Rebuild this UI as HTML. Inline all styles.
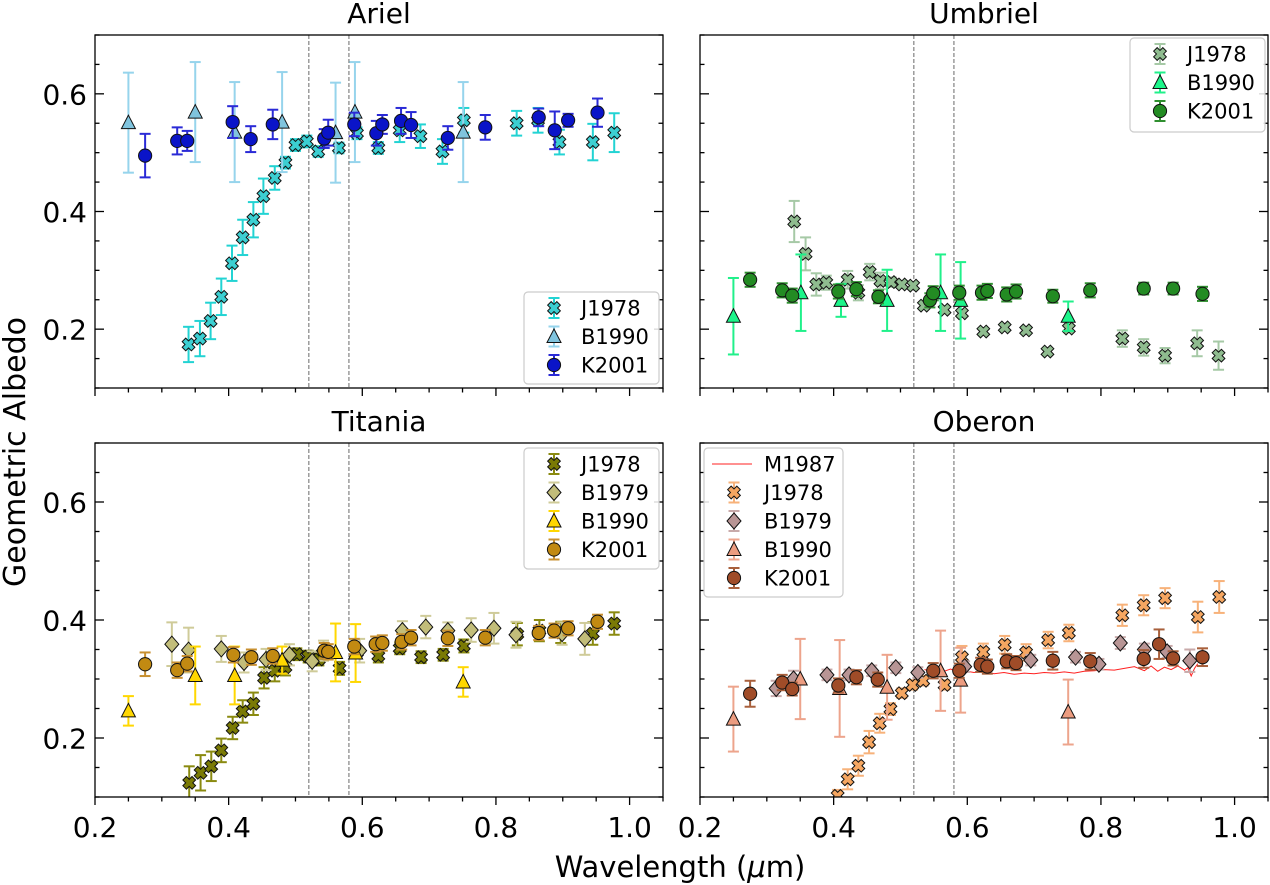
<!DOCTYPE html>
<html><head><meta charset="utf-8"><style>
html,body{margin:0;padding:0;background:#fff;}
svg{display:block;font-family:"DejaVu Sans","Liberation Sans",sans-serif;}
</style></head><body>
<svg id="chart" width="1270" height="885" viewBox="0 0 1270 885" xmlns="http://www.w3.org/2000/svg"></svg>
<script>
// ---------- DATA ----------
const xTicks = [0.2, 0.4, 0.6, 0.8, 1.0];
const yTicks = [0.2, 0.4, 0.6];
const dashedLines = [0.52, 0.58];

// Ariel
const arielJ1978X = [0.340,0.357,0.373,0.389,0.405,0.421,0.437,0.452,0.469,0.485,0.500,0.517,0.534,0.565,0.592,0.624,0.656,0.687,0.720,0.752,0.831,0.863,0.895,0.945,0.977];
const arielJ1978Y = [0.174,0.184,0.214,0.255,0.312,0.356,0.386,0.426,0.457,0.483,0.513,0.519,0.502,0.508,0.533,0.508,0.538,0.528,0.502,0.555,0.550,0.555,0.518,0.518,0.534];
const arielJ1978E = [0.030,0.030,0.031,0.031,0.030,0.030,0.030,0.030,0.020,0.010,0.010,0.010,0.009,0.009,0.010,0.010,0.020,0.020,0.021,0.021,0.021,0.021,0.021,0.031,0.033];
const arielB1990X = [0.250,0.350,0.409,0.480,0.560,0.589,0.751];
const arielB1990Y = [0.551,0.569,0.535,0.552,0.534,0.569,0.535];
const arielB1990E = [0.085,0.085,0.085,0.085,0.085,0.085,0.085];
const arielK2001X = [0.275,0.323,0.338,0.406,0.433,0.466,0.543,0.549,0.588,0.621,0.630,0.658,0.673,0.728,0.784,0.864,0.888,0.908,0.952];
const arielK2001Y = [0.495,0.520,0.520,0.552,0.523,0.548,0.524,0.534,0.548,0.533,0.548,0.554,0.547,0.525,0.543,0.560,0.538,0.555,0.568];
const arielK2001E = [0.037,0.023,0.017,0.027,0.022,0.025,0.016,0.022,0.020,0.021,0.016,0.022,0.022,0.020,0.021,0.015,0.032,0.011,0.024];

// Umbriel
const umbrielJ1978X = [0.341,0.358,0.374,0.389,0.421,0.437,0.454,0.470,0.486,0.502,0.519,0.535,0.566,0.592,0.624,0.656,0.688,0.720,0.752,0.832,0.864,0.896,0.944,0.976];
const umbrielJ1978Y = [0.383,0.328,0.276,0.279,0.284,0.262,0.297,0.282,0.280,0.276,0.274,0.240,0.233,0.227,0.196,0.203,0.198,0.162,0.201,0.184,0.169,0.155,0.176,0.155];
const umbrielJ1978E = [0.035,0.028,0.019,0.012,0.015,0.013,0.014,0.014,0.008,0.006,0.006,0.006,0.006,0.006,0.006,0.006,0.006,0.006,0.006,0.014,0.014,0.013,0.022,0.024];
const umbrielB1990X = [0.250,0.351,0.411,0.480,0.560,0.590,0.751];
const umbrielB1990Y = [0.222,0.262,0.249,0.249,0.262,0.249,0.222];
const umbrielB1990E = [0.065,0.065,0.028,0.052,0.065,0.065,0.025];
const umbrielK2001X = [0.275,0.323,0.338,0.407,0.434,0.467,0.544,0.549,0.588,0.622,0.630,0.659,0.673,0.728,0.784,0.864,0.908,0.952];
const umbrielK2001Y = [0.284,0.266,0.257,0.264,0.268,0.255,0.249,0.261,0.262,0.262,0.265,0.259,0.264,0.256,0.266,0.269,0.269,0.260];
const umbrielK2001E = [0.012,0.012,0.012,0.012,0.012,0.011,0.012,0.012,0.012,0.012,0.012,0.012,0.012,0.011,0.012,0.010,0.010,0.012];

// Titania
const titaniaJ1978X = [0.341,0.358,0.374,0.389,0.406,0.421,0.437,0.453,0.469,0.485,0.502,0.519,0.535,0.566,0.592,0.624,0.656,0.688,0.721,0.752,0.832,0.865,0.897,0.945,0.977];
const titaniaJ1978Y = [0.124,0.141,0.152,0.179,0.217,0.245,0.258,0.302,0.314,0.320,0.342,0.338,0.333,0.318,0.345,0.339,0.352,0.337,0.341,0.356,0.376,0.382,0.379,0.377,0.394];
const titaniaJ1978E = [0.028,0.030,0.025,0.020,0.019,0.019,0.019,0.018,0.018,0.014,0.010,0.010,0.010,0.011,0.010,0.011,0.010,0.010,0.010,0.011,0.019,0.018,0.018,0.019,0.019];
const titaniaB1979X = [0.315,0.340,0.389,0.423,0.456,0.491,0.525,0.542,0.596,0.660,0.695,0.728,0.763,0.797,0.830,0.899,0.933];
const titaniaB1979Y = [0.359,0.349,0.351,0.328,0.333,0.341,0.330,0.348,0.348,0.382,0.388,0.382,0.383,0.386,0.375,0.377,0.368];
const titaniaB1979E = [0.037,0.038,0.022,0.017,0.018,0.018,0.017,0.017,0.020,0.016,0.019,0.014,0.020,0.026,0.022,0.019,0.027];
const titaniaB1990X = [0.250,0.350,0.409,0.480,0.560,0.590,0.751];
const titaniaB1990Y = [0.246,0.306,0.306,0.332,0.345,0.344,0.295];
const titaniaB1990E = [0.025,0.049,0.049,0.023,0.049,0.049,0.025];
const titaniaK2001X = [0.275,0.323,0.338,0.407,0.434,0.466,0.543,0.549,0.588,0.620,0.630,0.659,0.673,0.728,0.784,0.864,0.887,0.908,0.952];
const titaniaK2001Y = [0.325,0.315,0.326,0.341,0.337,0.339,0.348,0.346,0.355,0.359,0.361,0.363,0.370,0.369,0.370,0.378,0.382,0.386,0.397];
const titaniaK2001E = [0.020,0.013,0.013,0.013,0.013,0.013,0.013,0.013,0.013,0.013,0.013,0.013,0.013,0.013,0.013,0.012,0.012,0.012,0.012];

// Oberon
const oberonM1987X = [0.536,0.545,0.555,0.565,0.575,0.585,0.595,0.61,0.625,0.64,0.655,0.67,0.685,0.70,0.715,0.73,0.745,0.76,0.775,0.79,0.805,0.82,0.835,0.85,0.865,0.875,0.885,0.895,0.905,0.915,0.925,0.93,0.935,0.94,0.945];
const oberonM1987Y = [0.316,0.314,0.318,0.313,0.317,0.312,0.314,0.311,0.313,0.309,0.311,0.308,0.310,0.309,0.311,0.310,0.312,0.310,0.313,0.314,0.316,0.315,0.318,0.321,0.314,0.322,0.313,0.320,0.316,0.322,0.315,0.319,0.305,0.318,0.326];
const oberonJ1978X = [0.406,0.421,0.437,0.453,0.469,0.485,0.502,0.518,0.534,0.566,0.592,0.624,0.656,0.688,0.721,0.752,0.832,0.864,0.896,0.945,0.977];
const oberonJ1978Y = [0.102,0.130,0.153,0.193,0.225,0.249,0.276,0.290,0.297,0.290,0.337,0.346,0.358,0.345,0.366,0.378,0.408,0.425,0.437,0.405,0.439];
const oberonJ1978E = [0.010,0.017,0.017,0.019,0.016,0.010,0.008,0.008,0.008,0.008,0.019,0.014,0.015,0.014,0.014,0.014,0.018,0.017,0.017,0.026,0.027];
const oberonB1979X = [0.314,0.340,0.390,0.423,0.457,0.493,0.526,0.596,0.629,0.695,0.762,0.797,0.829,0.865,0.899,0.933];
const oberonB1979Y = [0.284,0.300,0.307,0.307,0.314,0.319,0.311,0.321,0.324,0.332,0.337,0.325,0.361,0.350,0.346,0.331];
const oberonB1979E = [0.013,0.014,0.009,0.009,0.009,0.009,0.009,0.009,0.009,0.009,0.009,0.009,0.010,0.010,0.010,0.019];
const oberonB1990X = [0.250,0.350,0.409,0.480,0.560,0.590,0.751];
const oberonB1990Y = [0.232,0.300,0.284,0.286,0.314,0.298,0.244];
const oberonB1990E = [0.055,0.068,0.082,0.055,0.068,0.055,0.055];
const oberonK2001X = [0.275,0.323,0.338,0.407,0.434,0.466,0.549,0.588,0.620,0.630,0.659,0.673,0.728,0.784,0.864,0.887,0.908,0.952];
const oberonK2001Y = [0.275,0.294,0.283,0.289,0.303,0.299,0.314,0.314,0.324,0.321,0.330,0.327,0.331,0.330,0.334,0.359,0.335,0.337];
const oberonK2001E = [0.022,0.013,0.011,0.012,0.012,0.012,0.013,0.012,0.012,0.012,0.012,0.012,0.015,0.014,0.015,0.025,0.012,0.015];

// ---------- RENDER ----------
const NS = 'http://www.w3.org/2000/svg';
const svg = document.getElementById('chart');
function mk(tag, attrs, parent){ const e=document.createElementNS(NS,tag); for(const k in attrs) e.setAttribute(k,attrs[k]); (parent||svg).appendChild(e); return e; }

const panels = [
  {name:'ariel', title:'Ariel', x0:95, y0:35, w:568, h:353, yLabels:true, xLabels:false, legend:{x:524,y:292,w:135,h:92},
   series:[
     {label:'J1978', m:'X', fill:'#3ccfd2', ec:'#22d3d3', xs:arielJ1978X, ys:arielJ1978Y, es:arielJ1978E},
     {label:'B1990', m:'^', fill:'#80c4de', ec:'#96d4ec', xs:arielB1990X, ys:arielB1990Y, es:arielB1990E},
     {label:'K2001', m:'o', fill:'#0a14c8', ec:'#2a2ad6', xs:arielK2001X, ys:arielK2001Y, es:arielK2001E}]},
  {name:'umbriel', title:'Umbriel', x0:700, y0:35, w:568, h:353, yLabels:false, xLabels:false, legend:{x:1130,y:38,w:135,h:94},
   series:[
     {label:'J1978', m:'X', fill:'#8fbc8f', ec:'#a6c9a6', xs:umbrielJ1978X, ys:umbrielJ1978Y, es:umbrielJ1978E},
     {label:'B1990', m:'^', fill:'#1cf58a', ec:'#20f08a', xs:umbrielB1990X, ys:umbrielB1990Y, es:umbrielB1990E},
     {label:'K2001', m:'o', fill:'#238b23', ec:'#2f8f2f', xs:umbrielK2001X, ys:umbrielK2001Y, es:umbrielK2001E}]},
  {name:'titania', title:'Titania', x0:95, y0:443, w:568, h:354, yLabels:true, xLabels:true, legend:{x:524,y:448,w:135,h:121},
   series:[
     {label:'J1978', m:'X', fill:'#7a7a05', ec:'#8a8a10', xs:titaniaJ1978X, ys:titaniaJ1978Y, es:titaniaJ1978E},
     {label:'B1979', m:'D', fill:'#c2bd7a', ec:'#cfcb99', xs:titaniaB1979X, ys:titaniaB1979Y, es:titaniaB1979E},
     {label:'B1990', m:'^', fill:'#ffd700', ec:'#ffd700', xs:titaniaB1990X, ys:titaniaB1990Y, es:titaniaB1990E},
     {label:'K2001', m:'o', fill:'#c28a12', ec:'#c89030', xs:titaniaK2001X, ys:titaniaK2001Y, es:titaniaK2001E}]},
  {name:'oberon', title:'Oberon', x0:700, y0:443, w:568, h:354, yLabels:false, xLabels:true, legend:{x:704,y:448,w:139,h:149},
   line:{label:'M1987', xs:oberonM1987X, ys:oberonM1987Y},
   series:[
     {label:'J1978', m:'X', fill:'#f5a661', ec:'#f7b27a', xs:oberonJ1978X, ys:oberonJ1978Y, es:oberonJ1978E},
     {label:'B1979', m:'D', fill:'#b89595', ec:'#c8aaaa', xs:oberonB1979X, ys:oberonB1979Y, es:oberonB1979E},
     {label:'B1990', m:'^', fill:'#ec9c80', ec:'#eda48c', xs:oberonB1990X, ys:oberonB1990Y, es:oberonB1990E},
     {label:'K2001', m:'o', fill:'#a04c28', ec:'#a8603c', xs:oberonK2001X, ys:oberonK2001Y, es:oberonK2001E}]}
];

function marker(g, m, cx, cy, fill){
  let e;
  if(m==='o'){ e=mk('circle',{cx:cx,cy:cy,r:6.6,fill:fill,stroke:'#111','stroke-width':1},g); }
  else if(m==='^'){ e=mk('polygon',{points:`${cx},${cy-7.5} ${cx-7},${cy+6} ${cx+7},${cy+6}`,fill:fill,stroke:'#111','stroke-width':1},g); }
  else if(m==='D'){ e=mk('polygon',{points:`${cx},${cy-8} ${cx+7},${cy} ${cx},${cy+8} ${cx-7},${cy}`,fill:fill,stroke:'#111','stroke-width':1},g); }
  else {
    const a=2.5, b=6.5; const pts=[];
    const base=[[-a,-b],[a,-b],[a,-a],[b,-a],[b,a],[a,a],[a,b],[-a,b],[-a,a],[-b,a],[-b,-a],[-a,-a]];
    const c=Math.SQRT1_2;
    base.forEach(p=>pts.push((cx+(p[0]-p[1])*c).toFixed(2)+','+(cy+(p[0]+p[1])*c).toFixed(2)));
    e=mk('polygon',{points:pts.join(' '),fill:fill,stroke:'#111','stroke-width':1},g);
  }
  return e;
}
function errbar(g, cx, y1, y2, col){
  mk('line',{x1:cx,y1:y1,x2:cx,y2:y2,stroke:col,'stroke-width':2},g);
  mk('line',{x1:cx-5.5,y1:y1,x2:cx+5.5,y2:y1,stroke:col,'stroke-width':2},g);
  mk('line',{x1:cx-5.5,y1:y2,x2:cx+5.5,y2:y2,stroke:col,'stroke-width':2},g);
}

panels.forEach(p=>{
  const sx = v => p.x0 + (v-0.2)/(1.05-0.2)*p.w;
  const sy = v => p.y0 + (0.7-v)/0.6*p.h;
  const g = mk('g',{});
  
  
  const cid='clip-'+p.name;
  const cp=mk('clipPath',{id:cid},g); mk('rect',{x:p.x0,y:p.y0,width:p.w,height:p.h},cp);

  const t=mk('text',{x:p.x0+p.w/2,y:p.y0-12,'text-anchor':'middle','font-size':28,fill:'#000'},g);
  t.textContent=p.title;
  
  

  const tg=mk('g',{stroke:'#000','stroke-width':1.3},g);
  for(let v=0.2; v<=1.051; v+=0.05){
    const X=sx(v); const major=Math.abs(Math.round(v*10)-v*10)<1e-6 && Math.round(v*10)%2===0;
    mk('line',{x1:X,y1:p.y0+p.h,x2:X,y2:p.y0+p.h+(major?8:4.5)},tg);
  }
  for(let v=0.1; v<=0.701; v+=0.05){
    const Y=sy(v); const major=yTicks.some(t=>Math.abs(t-v)<1e-6);
    const L=major?9:4.5;
    mk('line',{x1:p.x0,y1:Y,x2:p.x0+L,y2:Y},tg);
    mk('line',{x1:p.x0+p.w,y1:Y,x2:p.x0+p.w-L,y2:Y},tg);
  }
  if(p.xLabels){
    xTicks.forEach(v=>{
      const tx=mk('text',{x:sx(v),y:p.y0+p.h+40,'text-anchor':'middle','font-size':28,fill:'#000'},g);
      tx.textContent=v.toFixed(1);
      
      
    });
  }
  if(p.yLabels){
    yTicks.forEach(v=>{
      const ty=mk('text',{x:p.x0-8,y:sy(v)+10.5,'text-anchor':'end','font-size':28,fill:'#000'},g);
      ty.textContent=v.toFixed(1);
      
      
    });
  }
  dashedLines.forEach(v=>{
    const dl=mk('line',{x1:sx(v),y1:p.y0,x2:sx(v),y2:p.y0+p.h,stroke:'#777','stroke-width':1.1,'stroke-dasharray':'4,2'},g);
    
    
  });

  const dg=mk('g',{'clip-path':`url(#${cid})`},g);
  if(p.line){
    const pts=p.line.xs.map((x,i)=>sx(x).toFixed(1)+','+sy(p.line.ys[i]).toFixed(1)).join(' ');
    const pl=mk('polyline',{points:pts,fill:'none',stroke:'#ff2020','stroke-width':1},dg);
    
    
  }
  p.series.forEach(s=>{
    const sg=mk('g',{},dg);
    
    
    s.xs.forEach((x,i)=>{ errbar(sg, sx(x), sy(s.ys[i]+s.es[i]), sy(s.ys[i]-s.es[i]), s.ec); });
    s.xs.forEach((x,i)=>{
      const mkEl=marker(sg, s.m, sx(x), sy(s.ys[i]), s.fill);
      
      
    });
  });

  mk('rect',{x:p.x0,y:p.y0,width:p.w,height:p.h,fill:'none',stroke:'#000','stroke-width':1.3},g);

  const L=p.legend;
  const lg=mk('g',{},g);
  
  
  mk('rect',{x:L.x,y:L.y,width:L.w,height:L.h,rx:4,fill:'#fff','fill-opacity':0.85,stroke:'#ccc','stroke-width':1.2},lg);
  let entries=[];
  if(p.line) entries.push({line:true,label:p.line.label});
  p.series.forEach(s=>entries.push(s));
  const step=28.5; const mx=L.x+30; const txX=L.x+(p.line?60:57);
  entries.forEach((s,i)=>{
    const cy=L.y+16+i*step;
    const eg=mk('g',{},lg);
    
    
    if(s.line){ mk('line',{x1:L.x+8,y1:cy,x2:L.x+48,y2:cy,stroke:'#ff2020','stroke-width':1},eg); }
    else { errbar(eg, mx, cy-10, cy+10, s.ec); marker(eg, s.m, mx, cy, s.fill); }
    const lt=mk('text',{x:txX,y:cy+7.5,'font-size':21,fill:'#000'},eg);
    lt.textContent=s.label;
  });
});

const yl=mk('text',{x:0,y:0,transform:'translate(25,452) rotate(-90)','text-anchor':'middle','font-size':30,fill:'#000'});
yl.textContent='Geometric Albedo';


const xl=mk('text',{x:680,y:877,'text-anchor':'middle','font-size':29,fill:'#000'});


xl.appendChild(document.createTextNode('Wavelength ('));
const ts=mk('tspan',{'font-style':'italic'},xl); ts.textContent='μ';
xl.appendChild(document.createTextNode('m)'));
</script>
</body></html>
